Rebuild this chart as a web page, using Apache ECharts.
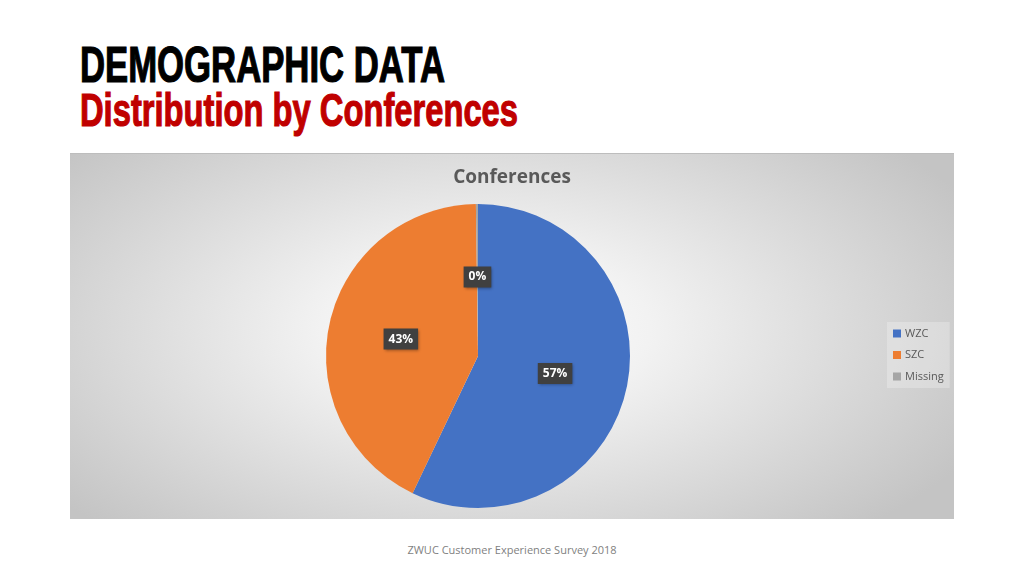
<!DOCTYPE html>
<html>
<head>
<meta charset="utf-8">
<script src="https://cdn.jsdelivr.net/npm/echarts@6/dist/echarts.min.js"></script>
<style>
  html, body { margin:0; padding:0; width:1024px; height:576px; background:#fff; overflow:hidden; }
  .h { position:absolute; left:80px; white-space:nowrap; font-family:Impact, "Liberation Sans Narrow", "Liberation Sans", sans-serif; font-weight:bold; transform-origin:0 0; line-height:1; }
  #h1 { top:40px; font-size:50px; color:#000; -webkit-text-stroke:1.2px #000; }
  #h2 { top:86px; font-size:47px; color:#c00000; -webkit-text-stroke:1.2px #c00000; }
  #chartWrap { position:absolute; left:70px; top:153px; width:884px; height:366px;
    background: radial-gradient(ellipse 62% 75% at 47% 48%, #ffffff 0%, #f2f2f2 30%, #c4c4c4 100%);
    border-top:1px solid #bdbdbd; box-sizing:border-box; }
  #chart { width:884px; height:365px; }
  #foot { position:absolute; top:542px; left:0; width:1024px; text-align:center; font-family:"Open Sans", sans-serif; font-size:11px; color:#7f7f7f; }
</style>
</head>
<body>
<div id="h1" class="h">DEMOGRAPHIC DATA</div>
<div id="h2" class="h">Distribution by Conferences</div>
<div id="chartWrap"><div id="chart"></div></div>
<div id="foot">ZWUC Customer Experience Survey 2018</div>
<script>
const categories = ['WZC', 'SZC', 'Missing'];
const values = [258, 193, 1];
const colors = ['#4472c4', '#ed7d31', '#a5a5a5'];

function fit(id, w) {
  const el = document.getElementById(id);
  const r = el.getBoundingClientRect();
  el.style.transform = 'scaleX(' + (w / r.width) + ')';
}
fit('h1', 365);
fit('h2', 438);

const chart = echarts.init(document.getElementById('chart'));
chart.setOption({
  title: {
    text: 'Conferences', left: 'center', top: 9,
    textStyle: { fontFamily: 'Open Sans', fontWeight: 'bold', fontSize: 19, color: '#595959' }
  },
  legend: {
    orient: 'vertical', left: 817, top: 168, itemWidth: 8, itemHeight: 8, itemGap: 10.5,
    icon: 'rect', backgroundColor: 'rgba(255,255,255,0.25)', padding: [6, 6, 6, 6],
    textStyle: { fontFamily: 'Open Sans', fontSize: 11, color: '#595959', padding: [0, 0, 0, -1] },
    data: categories
  },
  series: [{
    type: 'pie', center: [408, 202], radius: 152, startAngle: 90, clockwise: true,
    avoidLabelOverlap: false, silent: true,
    data: categories.map((c, i) => ({ name: c, value: values[i], itemStyle: { color: colors[i] } })),
    itemStyle: { borderWidth: 0 },
    label: {
      show: true, position: 'inner',
      formatter: p => Math.round(p.percent) + '%',
      color: '#fff', fontFamily: 'Open Sans', fontWeight: 'bold', fontSize: 12,
      backgroundColor: '#404040', padding: [5, 5, 4, 5],
      shadowColor: 'rgba(0,0,0,0.4)', shadowBlur: 3, shadowOffsetX: 1, shadowOffsetY: 1
    },
    labelLine: { show: false }
  }]
});
</script>
</body>
</html>
